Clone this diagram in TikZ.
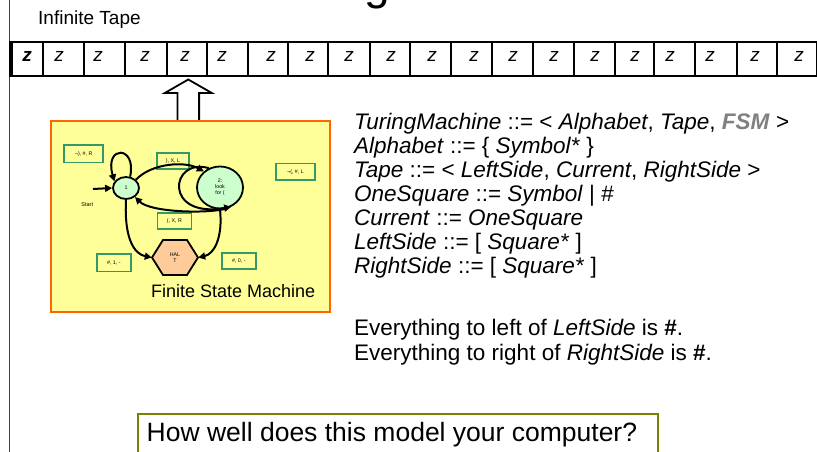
\documentclass[tikz,border=0pt]{standalone}
\usepackage{fontspec}
\setmainfont{Liberation Sans}
\usetikzlibrary{arrows.meta,calc,shapes.geometric}
\definecolor{fsmfill}{HTML}{FFFF99}
\definecolor{fsmborder}{HTML}{FF6600}
\definecolor{statefill}{HTML}{CCFFCC}
\definecolor{haltfill}{HTML}{FFCC99}
\definecolor{labelborder}{HTML}{339966}
\definecolor{qolive}{HTML}{808000}
\definecolor{fsmgray}{HTML}{808080}
\begin{document}
\begin{tikzpicture}[x=1pt,y=-1pt,
  cellbox/.style={draw, line width=2pt, minimum height=34pt, inner sep=0pt},
  zsym/.style={font=\fontsize{19}{19}\selectfont\itshape, anchor=base, inner sep=0pt},
  state/.style={ellipse, draw, fill=statefill, line width=1.8pt, inner sep=0pt, font=\fontsize{5.3}{6}\selectfont, align=center},
  tlabel/.style={draw=labelborder, fill=fsmfill, line width=1.7pt, inner sep=0pt, font=\fontsize{5.3}{5.5}\selectfont},
  fsmedge/.style={line width=2pt, -{Triangle[length=7pt,width=7pt]}},
  grammar/.style={anchor=base west, inner sep=0pt, font=\fontsize{22.5}{24}\selectfont},
  blockarrow/.style={draw, line width=1.8pt, fill=white},
]
\useasboundingbox (0,0) rectangle (817,452);
\fill[white] (0,0) rectangle (817,452);
\draw[line width=1pt, black!75] (9.5,0) -- (9.5,452);

% title (cut off at the top, as in the reference)
\node[anchor=base west, inner sep=0pt, font=\fontsize{46}{46}\selectfont] (title) at (261,0) {Turing Machines};

% tape
\node[anchor=base west, inner sep=0pt, font=\fontsize{19}{19}\selectfont] (tapelabel) at (38,25) {Infinite Tape};
\foreach \l/\r [count=\i] in {12/43,43/84,84/125,125/167,167/207,207/248,248/288,288/328,328/370,370/410,410/451,451/492,492/533,533/574,574/615,615/654,654/695,695/737,737/777,777/817}
  \node[cellbox, minimum width={(\r-\l)*1pt}] (cell\i) at ({(\l+\r)/2},59) {};
\draw[line width=3.5pt] (cell1.north west) -- (cell1.south west);
\node[zsym, font=\fontsize{19}{19}\selectfont\bfseries\itshape] (z1) at (27,61.5) {z};
\foreach \zx [count=\i from 2] in {59,98,145,185,222,271,310,349,391,432,474,513,554,595,635,670,710,755,799}
  \node[zsym] (z\i) at (\zx,61.5) {z};

% head arrow
\coordinate (ptip) at (188.3,79.5);
\coordinate (pbase) at (188.3,122);
\draw[blockarrow] (ptip) -- ($(ptip)+(23.5,13.5)$) -- ($(ptip)+(10.8,13.5)$) -- ($(pbase)+(10.8,0)$)
  -- ($(pbase)+(-10.8,0)$) -- ($(ptip)+(-10.8,13.5)$) -- ($(ptip)+(-23.5,13.5)$) -- cycle;

% finite state machine
\node[draw=fsmborder, fill=fsmfill, line width=2.5pt, minimum width=279pt, minimum height=191pt, inner sep=0pt] (fsm) at (190.5,216.5) {};

\node[state, minimum width=26pt, minimum height=22pt] (s1) at (126,188) {1};
\node[state, minimum width=46pt, minimum height=42pt] (s2) at (220,187.5) {2:\\look\\for (};
\coordinate (hc) at (175,257.5);
\draw[line width=1.8pt, fill=haltfill] ($(hc)+(-23,0)$) -- ($(hc)+(-12,-17.5)$) -- ($(hc)+(12,-17.5)$)
  -- ($(hc)+(23,0)$) -- ($(hc)+(12,17.5)$) -- ($(hc)+(-12,17.5)$) -- cycle;
\node[inner sep=0pt, minimum width=46pt, minimum height=35pt, font=\fontsize{5.3}{6}\selectfont, align=center] (halt) at (hc) {HAL\\T};

\node[tlabel, minimum width=39pt, minimum height=17.5pt] (l1) at (83.7,153.8) {¬), \#, R};
\node[tlabel, minimum width=32.5pt, minimum height=16.5pt] (l2) at (173,161) {), X, L};
\node[tlabel, minimum width=39pt, minimum height=16.5pt] (l3) at (295.5,171.7) {¬(, \#, L};
\node[tlabel, minimum width=34pt, minimum height=16.5pt] (l4) at (174.5,221) {(, X, R};
\node[tlabel, minimum width=34pt, minimum height=17.5pt] (l5) at (113.8,262.8) {\#, 1, -};
\node[tlabel, minimum width=34pt, minimum height=16.5pt] (l6) at (238.8,261) {\#, 0, -};

\node[inner sep=0pt, font=\fontsize{5.5}{5.5}\selectfont] (start) at (87.3,204.3) {Start};
\coordinate (startpt) at (93,189);
\draw[fsmedge] (startpt) -- (s1.west);

\draw[fsmedge] (s1.70) .. controls (137,145) and (104,145) .. (s1.150);
\draw[fsmedge] (s1.40) .. controls (152,163) and (185,161) .. (s2.135);
\draw[fsmedge] (s2.120) .. controls (170,157) and (163,219) .. (s2.-60);
\draw[fsmedge] (s2.-75) .. controls (205,214) and (150,212) .. (s1.-45);
\draw[fsmedge] (s1.south) .. controls (124,238) and (134,254) .. (halt.west);
\draw[fsmedge] (s2.south) .. controls (223,238) and (214,254) .. (halt.east);

\node[anchor=base west, inner sep=0pt, font=\fontsize{18}{18}\selectfont] (fsmtitle) at (151,297) {Finite State Machine};

% grammar
\node[grammar] (g1) at (354,129) {\textit{TuringMachine} ::= < \textit{Alphabet}, \textit{Tape}, \textcolor{fsmgray}{\textbf{\textit{FSM}}} >};
\node[grammar] (g2) at (354,153) {\textit{Alphabet} ::= \{ \textit{Symbol*} \}};
\node[grammar] (g3) at (354,177) {\textit{Tape} ::= < \textit{LeftSide}, \textit{Current}, \textit{RightSide} >};
\node[grammar] (g4) at (354,201) {\textit{OneSquare} ::= \textit{Symbol} | \#};
\node[grammar] (g5) at (354,225) {\textit{Current} ::= \textit{OneSquare}};
\node[grammar] (g6) at (354,249) {\textit{LeftSide} ::= [ \textit{Square*} ]};
\node[grammar] (g7) at (354,273) {\textit{RightSide} ::= [ \textit{Square*} ]};

\node[grammar] (e1) at (354,335) {Everything to left of \textit{LeftSide} is \textbf{\#}.};
\node[grammar] (e2) at (354,360.5) {Everything to right of \textit{RightSide} is \textbf{\#}.};

% question
\node[draw=qolive, line width=2.2pt, anchor=north west, minimum width=520pt, minimum height=57pt, inner sep=0pt] (qbox) at (137,413) {};
\node[anchor=base west, inner sep=0pt, font=\fontsize{26.5}{26.5}\selectfont] (qtext) at (146.5,441) {How well does this model your computer?};
\end{tikzpicture}
\end{document}
